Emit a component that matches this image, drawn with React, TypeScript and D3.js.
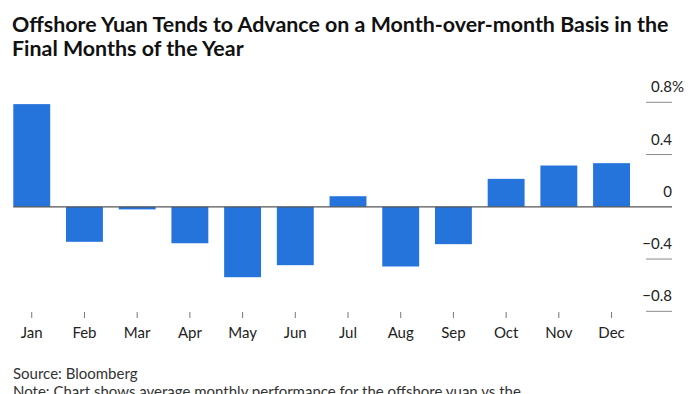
import React, { useEffect, useRef } from 'react';
import * as d3 from 'd3';

const months = ['Jan', 'Feb', 'Mar', 'Apr', 'May', 'Jun', 'Jul', 'Aug', 'Sep', 'Oct', 'Nov', 'Dec'];
const avgChange = [0.786, -0.268, -0.02, -0.279, -0.539, -0.447, 0.081, -0.457, -0.286, 0.214, 0.316, 0.334];
const yTicks = [0.8, 0.4, 0, -0.4, -0.8];

const FONT = 'Lato, "Open Sans", sans-serif';

const App = () => {
  const ref = useRef<SVGSVGElement>(null);

  useEffect(() => {
    const svg = d3.select(ref.current);
    svg.selectAll('*').remove();

    // plot area
    const left = 13.3;
    const right = 630;
    const axisEnd = 672;

    const x = d3.scaleBand<string>().domain(months).range([left, right]).paddingInner(0.3).paddingOuter(0);
    const y = d3.scaleLinear().domain([-0.8, 0.8]).range([311.3, 102.3]);

    // title
    const title = svg.append('text')
      .attr('fill', '#111')
      .style('font-family', FONT)
      .style('font-weight', 700)
      .style('font-size', '21.4px');
    title.append('tspan').attr('x', 12).attr('y', 32)
      .text('Offshore Yuan Tends to Advance on a Month-over-month Basis in the');
    title.append('tspan').attr('x', 12).attr('y', 56)
      .text('Final Months of the Year');

    // y grid ticks (short lines at the right)
    svg.append('g')
      .selectAll('line')
      .data(yTicks.filter(d => d !== 0))
      .enter()
      .append('line')
      .attr('x1', 646)
      .attr('x2', axisEnd)
      .attr('y1', d => y(d))
      .attr('y2', d => y(d))
      .attr('stroke', '#8a8a8a')
      .attr('stroke-width', 1);

    // y labels
    svg.append('g')
      .selectAll('text')
      .data(yTicks)
      .enter()
      .append('text')
      .attr('x', axisEnd)
      .attr('y', d => y(d) - 10)
      .attr('text-anchor', 'end')
      .attr('fill', '#222')
      .style('font-family', FONT)
      .style('font-size', '15px')
      .text(d => (d === 0 ? '0' : d3.format('.1f')(d)));

    svg.append('text')
      .attr('x', axisEnd)
      .attr('y', y(yTicks[0]) - 10)
      .attr('fill', '#222')
      .style('font-family', FONT)
      .style('font-size', '15px')
      .text('%');

    // bars
    svg.append('g')
      .selectAll('rect')
      .data(avgChange)
      .enter()
      .append('rect')
      .attr('x', (d, i) => x(months[i]) as number)
      .attr('width', x.bandwidth())
      .attr('y', d => Math.min(y(d), y(0)))
      .attr('height', d => Math.abs(y(d) - y(0)))
      .attr('fill', '#2474dc');

    // zero line
    svg.append('line')
      .attr('x1', left)
      .attr('x2', axisEnd)
      .attr('y1', y(0))
      .attr('y2', y(0))
      .attr('stroke', '#555')
      .attr('stroke-width', 1.2);

    // x ticks and labels
    const xg = svg.append('g');
    xg.selectAll('line')
      .data(months)
      .enter()
      .append('line')
      .attr('x1', d => (x(d) as number) + x.bandwidth() / 2)
      .attr('x2', d => (x(d) as number) + x.bandwidth() / 2)
      .attr('y1', 312)
      .attr('y2', 318)
      .attr('stroke', '#777')
      .attr('stroke-width', 1);
    xg.selectAll('text')
      .data(months)
      .enter()
      .append('text')
      .attr('x', d => (x(d) as number) + x.bandwidth() / 2)
      .attr('y', 338)
      .attr('text-anchor', 'middle')
      .attr('fill', '#222')
      .style('font-family', FONT)
      .style('font-size', '15px')
      .text(d => d);

    // footer
    const foot = svg.append('text')
      .attr('fill', '#333')
      .style('font-family', FONT)
      .style('font-size', '15px');
    foot.append('tspan').attr('x', 13).attr('y', 379).text('Source: Bloomberg');
    foot.append('tspan').attr('x', 13).attr('y', 397)
      .text('Note: Chart shows average monthly performance for the offshore yuan vs the');
  }, []);

  return (
    <svg
      ref={ref}
      width={700}
      height={394}
      style={{ position: 'absolute', left: 0, top: 0, background: '#fff' }}
    />
  );
};

export default App;
